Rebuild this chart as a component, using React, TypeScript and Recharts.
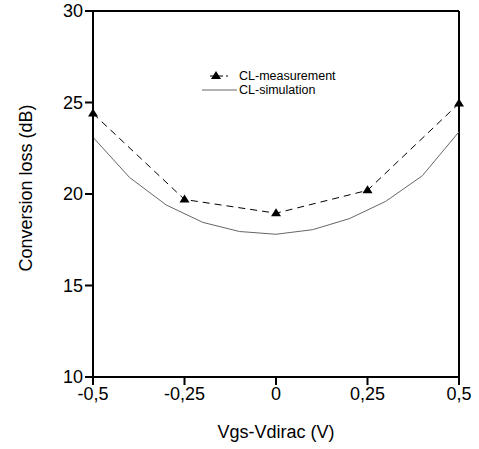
import React from 'react';
import {
    LineChart,
    Line,
    XAxis,
    YAxis,
    ReferenceLine,
    Legend,
} from 'recharts';

const X_TICKS = [-0.5, -0.25, 0, 0.25, 0.5];
const Y_TICKS = [10, 15, 20, 25, 30];

const MEAS_X = [-0.5, -0.25, 0, 0.25, 0.5];
const MEAS_Y = [24.4, 19.7, 18.95, 20.2, 24.95];

const SIM_X = [-0.5, -0.4, -0.3, -0.2, -0.1, 0, 0.1, 0.2, 0.3, 0.4, 0.5];
const SIM_Y = [23.1, 20.9, 19.4, 18.45, 17.95, 17.8, 18.05, 18.65, 19.6, 21.0, 23.4];

const measurement = MEAS_X.map((x, i) => ({ x, y: MEAS_Y[i] }));
const simulation = SIM_X.map((x, i) => ({ x, y: SIM_Y[i] }));

const FONT = '"Liberation Sans", Arial, sans-serif';

const Triangle = (props: any) => {
    const { cx, cy } = props;
    if (cx == null || cy == null) return null;
    return <polygon points={`${cx},${cy - 5} ${cx - 5},${cy + 3} ${cx + 5},${cy + 3}`} fill="#000" />;
};

const renderLegend = () => (
    <div style={{ fontFamily: FONT, fontSize: 12.5, color: '#000', lineHeight: '14px' }}>
        <div style={{ display: 'flex', alignItems: 'center', height: 14 }}>
            <svg width={38} height={14}>
                <line x1={9} y1={7} x2={27} y2={7} stroke="#000" strokeDasharray="5 3" />
                <polygon points="15,2 10,10 20,10" fill="#000" />
            </svg>
            <span>CL-measurement</span>
        </div>
        <div style={{ display: 'flex', alignItems: 'center', height: 14 }}>
            <svg width={38} height={14}>
                <line x1={1} y1={7} x2={36} y2={7} stroke="#666" />
            </svg>
            <span>CL-simulation</span>
        </div>
    </div>
);

const YTitle = (props: any) => {
    const { viewBox } = props;
    const x = 26;
    const y = viewBox.y + viewBox.height / 2 - 6;
    return (
        <text x={x} y={y} transform={`rotate(-90, ${x}, ${y})`} textAnchor="middle" dominantBaseline="central"
            fontFamily={FONT} fontSize={18} fill="#000">
            Conversion loss (dB)
        </text>
    );
};

const XTitle = (props: any) => {
    const { viewBox } = props;
    return (
        <text x={viewBox.x + viewBox.width / 2} y={438} textAnchor="middle"
            fontFamily={FONT} fontSize={18} fill="#000">
            Vgs-Vdirac (V)
        </text>
    );
};

export default function App() {
    return (
        <div style={{ position: 'absolute', left: 0, top: 0, background: '#fff' }}>
            <LineChart width={479} height={449} margin={{ top: 11, right: 20, left: 0, bottom: 0 }}>
                <XAxis
                    type="number"
                    dataKey="x"
                    domain={[-0.5, 0.5]}
                    ticks={X_TICKS}
                    allowDuplicatedCategory={false}
                    height={72}
                    tickSize={8}
                    stroke="#000"
                    strokeWidth={2}
                    tick={{ fill: '#000', fontSize: 18, fontFamily: FONT }}
                    tickFormatter={(v: number) => String(v).replace('.', ',')}
                    label={<XTitle />}
                />
                <YAxis
                    type="number"
                    domain={[10, 30]}
                    ticks={Y_TICKS}
                    width={93}
                    tickSize={8}
                    stroke="#000"
                    strokeWidth={2}
                    tick={{ fill: '#000', fontSize: 18, fontFamily: FONT }}
                    label={<YTitle />}
                />
                <ReferenceLine y={30} stroke="#000" strokeWidth={2} />
                <ReferenceLine x={0.5} stroke="#000" strokeWidth={2} />
                <Legend
                    layout="vertical"
                    align="center"
                    verticalAlign="middle"
                    content={renderLegend}
                    wrapperStyle={{ position: 'absolute', left: 201, top: 69, width: 'auto', height: 'auto' }}
                />
                <Line
                    data={simulation}
                    dataKey="y"
                    stroke="#666"
                    strokeWidth={1}
                    dot={false}
                    isAnimationActive={false}
                    type="linear"
                />
                <Line
                    data={measurement}
                    dataKey="y"
                    stroke="#000"
                    strokeWidth={1}
                    strokeDasharray="7 5"
                    dot={<Triangle />}
                    isAnimationActive={false}
                    type="linear"
                />
            </LineChart>
        </div>
    );
}
